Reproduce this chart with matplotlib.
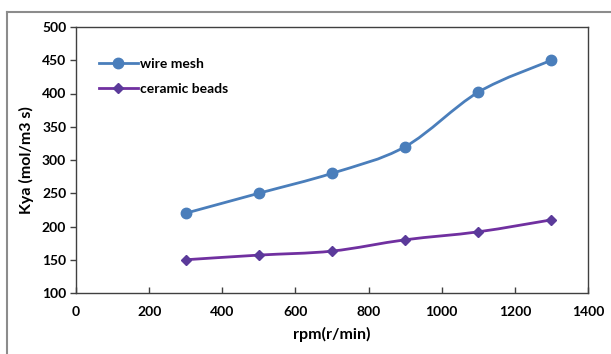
import matplotlib
matplotlib.use("Agg")
import matplotlib.pyplot as plt
from matplotlib.path import Path
from matplotlib.patches import PathPatch
from matplotlib.lines import Line2D
import numpy as np

plt.rcParams['font.family'] = ['Lato', 'DejaVu Sans']
plt.rcParams['font.weight'] = 'bold'

rpm = [300, 500, 700, 900, 1100, 1300]
wire_mesh = [220, 250, 280, 320, 402, 450]
ceramic_beads = [150, 157, 163, 180, 192, 210]

blue = '#4a7ebb'
purple = '#7030a0'
purple_mk = '#5b3a9a'


def smooth_path(x, y, t=0.5):
    # excel-like smoothed line: catmull-rom -> cubic bezier
    x = np.asarray(x, float)
    y = np.asarray(y, float)
    verts = [(x[0], y[0])]
    codes = [Path.MOVETO]
    n = len(x)
    for i in range(n - 1):
        p0 = np.array([x[max(i - 1, 0)], y[max(i - 1, 0)]])
        p1 = np.array([x[i], y[i]])
        p2 = np.array([x[i + 1], y[i + 1]])
        p3 = np.array([x[min(i + 2, n - 1)], y[min(i + 2, n - 1)]])
        c1 = p1 + (p2 - p0) * t / 3
        c2 = p2 - (p3 - p1) * t / 3
        verts += [tuple(c1), tuple(c2), tuple(p2)]
        codes += [Path.CURVE4] * 3
    return Path(verts, codes)


fig = plt.figure(figsize=(6.11, 3.54), dpi=100)
ax = fig.add_axes([76 / 611, 1 - 293 / 354, 512 / 611, 266 / 354])

# outer chart border (partly cut off)
fig.add_artist(Line2D([7 / 611, 1], [1 - 12 / 354] * 2, color='#8c8c8c', lw=1.5))
fig.add_artist(Line2D([7 / 611] * 2, [0, 1 - 12 / 354], color='#8c8c8c', lw=1.5))

ax.add_patch(PathPatch(smooth_path(rpm, wire_mesh), fill=False, edgecolor=blue, lw=2))
ax.add_patch(PathPatch(smooth_path(rpm, ceramic_beads), fill=False, edgecolor=purple, lw=2))
ax.plot(rpm, wire_mesh, 'o', color=blue, ms=7.5)
ax.plot(rpm, ceramic_beads, 'D', color=purple_mk, ms=5.5)

ax.set_xlim(0, 1400)
ax.set_ylim(100, 500)
ax.set_xticks(range(0, 1401, 200))
ax.set_yticks(range(100, 501, 50))
ax.tick_params(labelsize=10, length=4, width=1, color='#404040')
ax.tick_params(axis='x', direction='in', pad=9)
ax.tick_params(axis='y', direction='out', pad=3)
for lab in ax.get_xticklabels() + ax.get_yticklabels():
    lab.set_fontweight('bold')
for s in ax.spines.values():
    s.set_color('#404040')
    s.set_linewidth(1)

ax.set_xlabel('rpm(r/min)', fontsize=11.5, fontweight='bold', labelpad=7)
ax.set_ylabel('Kya (mol/m3 s)', fontsize=11.5, fontweight='bold', labelpad=6)

h1 = Line2D([], [], color=blue, lw=2, marker='o', ms=7.5)
h2 = Line2D([], [], color=purple, lw=2, marker='D', ms=5, mfc=purple_mk, mec=purple_mk)
ax.legend([h1, h2], ['wire mesh', 'ceramic beads'], loc='upper left',
          bbox_to_anchor=(0.02, 0.93), frameon=False,
          handlelength=2.8, handletextpad=0.2, labelspacing=0.95,
          prop={'weight': 'bold', 'size': 10})

fig.savefig('out.png', dpi=100)
